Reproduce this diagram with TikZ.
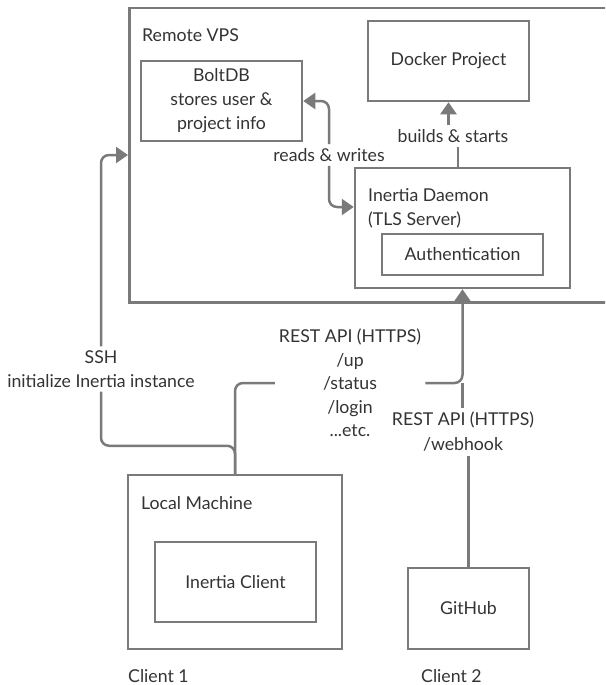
\documentclass[tikz,border=0pt]{standalone}
\usepackage{fontspec}
\setmainfont{Lato}
\usetikzlibrary{arrows.meta}
\definecolor{linegray}{HTML}{7A7A7A}
\definecolor{textgray}{HTML}{333333}
\tikzset{
  box/.style={draw=linegray, line width=2.5pt},
  lbl/.style={text=textgray, font=\fontsize{17.7}{24}\selectfont, align=center, inner sep=4pt},
  wire/.style={draw=linegray, line width=2.5pt, rounded corners=8pt},
  conn/.style={wire, -{Triangle[width=16pt,length=12pt]}},
}
\begin{document}
\begin{tikzpicture}[x=1pt,y=-1pt]
\useasboundingbox (0,0) rectangle (605,685);
\clip (0,0) rectangle (605,685);
% remote server
\node[box, anchor=north west, minimum width=490pt, minimum height=294pt] (vps) at (128,7) {};
\node[lbl, anchor=west] (vpsname) at (138,35) {Remote VPS};
\node[box, lbl, minimum width=161pt, minimum height=80pt] (bolt) at (221.5,101) {BoltDB\\stores user \&\\project info};
\node[box, lbl, minimum width=161pt, minimum height=80pt] (docker) at (448.5,61) {Docker Project};
\node[box, minimum width=215pt, minimum height=120pt] (daemon) at (462.5,228) {};
\node[lbl, align=left, anchor=west] (daemonname) at (364,208) {Inertia Daemon\\(TLS Server)};
\node[box, lbl, minimum width=161pt, minimum height=41pt] (auth) at (462.5,254.5) {Authentication};
\coordinate (sshin) at (128,155);
% clients
\node[box, minimum width=214pt, minimum height=174pt] (local) at (235,562) {};
\node[lbl, anchor=west] (localname) at (137,503) {Local Machine};
\node[box, lbl, minimum width=161pt, minimum height=80pt] (client) at (235.5,582) {Inertia Client};
\node[box, lbl, minimum width=121pt, minimum height=81pt] (github) at (468.5,608.5) {GitHub};
\node[lbl, anchor=west] (client1) at (124,676) {Client 1};
\node[lbl, anchor=west] (client2) at (417,676) {Client 2};
% labels on the wires
\node[lbl] (rw) at (329,155) {reads \& writes};
\node[lbl] (bs) at (453,136) {builds \& starts};
\node[lbl] (ssh) at (101,369) {SSH\\initialize Inertia instance};
\node[lbl, font=\fontsize{17.7}{23.5}\selectfont] (rest) at (350,383) {REST API (HTTPS)\\/up\\/status\\/login\\...etc.};
\node[lbl, font=\fontsize{17.7}{25}\selectfont] (hook) at (463,432) {REST API (HTTPS)\\/webhook};
% wires
\draw[wire] ([xshift=-4.5pt]daemon.north) -- ([xshift=-4.5pt]daemon.north |- bs.south);
\draw[conn] (bs.north -| docker.south) -- (docker.south);
\draw[conn] (rw.north) |- (bolt.east);
\draw[conn] (rw.south) |- ([yshift=21pt]daemon.west);
\draw[wire] (local.north) -- ++(0,-28) -| (ssh.south);
\draw[conn] (ssh.north) |- (sshin);
\draw[wire] (local.north) |- (rest.west);
\draw[conn] (rest.east) -| (daemon.south);
\draw[wire] (github.north) -- (hook.south -| github.north);
\draw[wire] (hook.north -| daemon.south) -- (rest.east -| daemon.south);
\end{tikzpicture}
\end{document}
